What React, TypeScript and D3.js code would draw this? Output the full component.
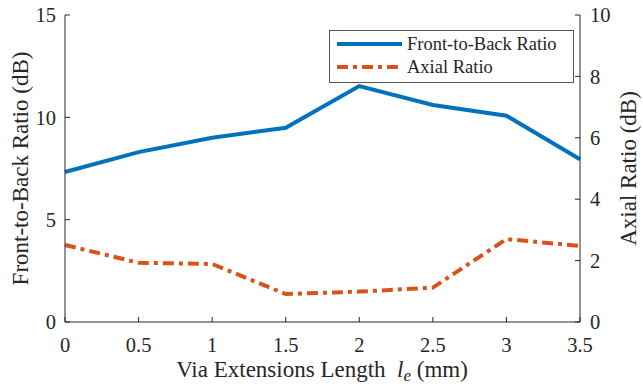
import React from "react";
import * as d3 from "d3";

// Via extension length (mm)
const lengths = [0, 0.5, 1, 1.5, 2, 2.5, 3, 3.5];
// Front-to-back ratio (dB), left axis
const fbr = [7.33, 8.3, 9.0, 9.49, 11.53, 10.6, 10.08, 7.95];
// Axial ratio (dB), right axis
const axialRatio = [2.51, 1.93, 1.89, 0.91, 0.99, 1.12, 2.7, 2.48];

const xTicks = [0, 0.5, 1, 1.5, 2, 2.5, 3, 3.5];
const leftTicks = [0, 5, 10, 15];
const rightTicks = [0, 2, 4, 6, 8, 10];

const W = 643;
const H = 387;
const M = { left: 65, right: 580, top: 15, bottom: 322 };
const BLUE = "#0072BD";
const ORANGE = "#D95319";
const INK = "#262626";
const FONT = "Liberation Serif";
const DASH = "11,5,4,5";

export default function App() {
  const x = d3.scaleLinear().domain([0, 3.5]).range([M.left, M.right]);
  const yL = d3.scaleLinear().domain([0, 15]).range([M.bottom, M.top]);
  const yR = d3.scaleLinear().domain([0, 10]).range([M.bottom, M.top]);

  const fbrLine = d3
    .line<number>()
    .x((_, i) => x(lengths[i]))
    .y((d) => yL(d));
  const arLine = d3
    .line<number>()
    .x((_, i) => x(lengths[i]))
    .y((d) => yR(d));

  const tickLen = 5;

  return (
    <svg
      width={W}
      height={H}
      style={{ position: "absolute", left: 0, top: 0, background: "#fff" }}
      fontFamily={FONT}
    >
      <rect x={0} y={0} width={W} height={H} fill="#fff" />

      {/* data lines */}
      <path d={fbrLine(fbr) || ""} fill="none" stroke={BLUE} strokeWidth={4} />
      <path
        d={arLine(axialRatio) || ""}
        fill="none"
        stroke={ORANGE}
        strokeWidth={4}
        strokeDasharray={DASH}
      />

      {/* axes */}
      <g stroke={INK} strokeWidth={1} fill="none">
        <line x1={M.left} x2={M.right} y1={M.bottom} y2={M.bottom} />
        <line x1={M.left} x2={M.left} y1={M.top} y2={M.bottom} />
        <line x1={M.right} x2={M.right} y1={M.top} y2={M.bottom} />
        {xTicks.map((t) => (
          <line key={"xt" + t} x1={x(t)} x2={x(t)} y1={M.bottom} y2={M.bottom - tickLen} />
        ))}
        {leftTicks.map((t) => (
          <line key={"lt" + t} x1={M.left} x2={M.left + tickLen} y1={yL(t)} y2={yL(t)} />
        ))}
        {rightTicks.map((t) => (
          <line key={"rt" + t} x1={M.right} x2={M.right - tickLen} y1={yR(t)} y2={yR(t)} />
        ))}
      </g>

      {/* tick labels */}
      <g fill={INK} fontSize={20.5}>
        {xTicks.map((t) => (
          <text key={"xl" + t} x={x(t)} y={M.bottom + 30} textAnchor="middle">
            {String(t)}
          </text>
        ))}
        {leftTicks.map((t) => (
          <text key={"ll" + t} x={M.left - 9} y={yL(t)} dy="0.35em" textAnchor="end">
            {String(t)}
          </text>
        ))}
        {rightTicks.map((t) => (
          <text key={"rl" + t} x={M.right + 10} y={yR(t)} dy="0.35em" textAnchor="start">
            {String(t)}
          </text>
        ))}
      </g>

      {/* axis titles */}
      <g fill={INK} fontSize={23}>
        <text x={322} y={377} textAnchor="middle">
          Via Extensions Length{"\u00a0\u00a0"}
          <tspan fontStyle="italic">l</tspan>
          <tspan fontStyle="italic" fontSize={17} dy={4}>e</tspan>
          <tspan dy={-4}> (mm)</tspan>
        </text>
        <text
          transform={`translate(${28},${(M.top + M.bottom) / 2}) rotate(-90)`}
          textAnchor="middle"
        >
          Front-to-Back Ratio (dB)
        </text>
        <text
          transform={`translate(${636},${(M.top + M.bottom) / 2}) rotate(-90)`}
          textAnchor="middle"
        >
          Axial Ratio (dB)
        </text>
      </g>

      {/* legend */}
      <g>
        <rect x={329.5} y={30.5} width={244} height={52} fill="#fff" stroke="#555" strokeWidth={1} />
        <line x1={337} x2={402} y1={44} y2={44} stroke={BLUE} strokeWidth={4} />
        <line x1={337} x2={402} y1={67} y2={67} stroke={ORANGE} strokeWidth={4} strokeDasharray={DASH} />
        <g fill={INK} fontSize={18.5}>
          <text x={407} y={44} dy="0.33em">Front-to-Back Ratio</text>
          <text x={407} y={67} dy="0.33em">Axial Ratio</text>
        </g>
      </g>
    </svg>
  );
}
